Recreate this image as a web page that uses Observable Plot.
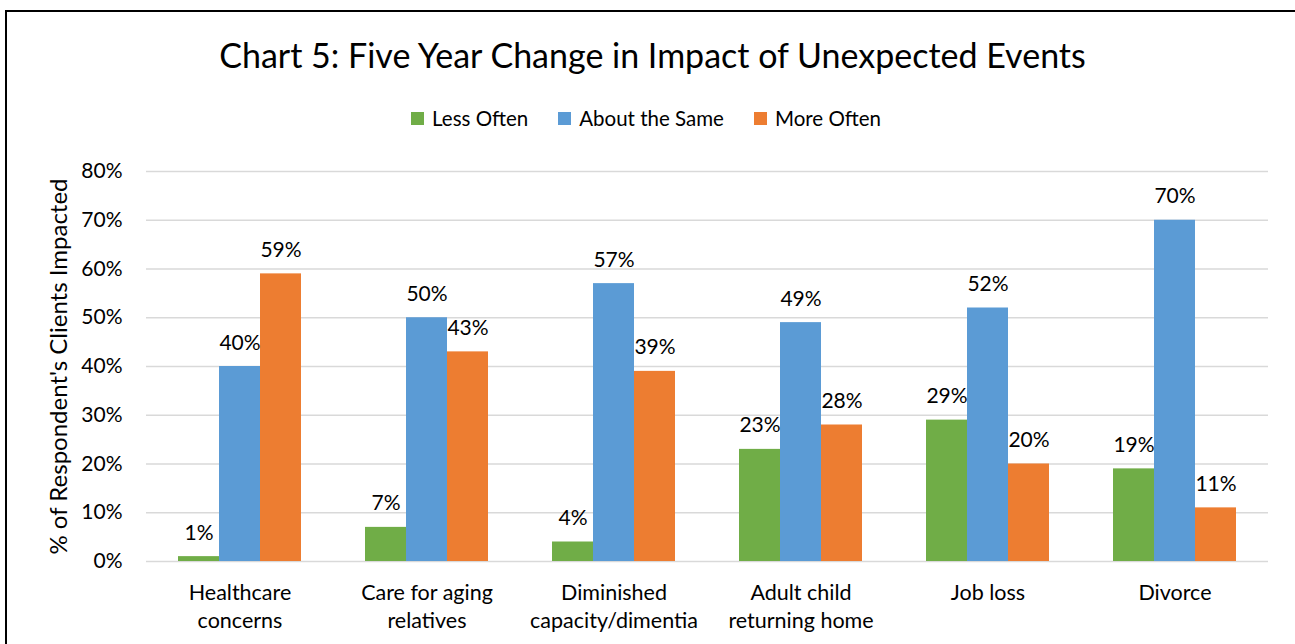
<!DOCTYPE html>
<html>
<head>
<meta charset="utf-8">
<script src="https://cdn.jsdelivr.net/npm/d3@7"></script>
<script src="https://cdn.jsdelivr.net/npm/@observablehq/plot@0.6"></script>
<style>
  body { margin: 0; width: 1295px; height: 644px; overflow: hidden; background: #fff; font-family: Lato, sans-serif; color: #000; position: relative; }
  #frame { position: absolute; left: 5px; top: 10px; width: 1400px; height: 700px; border-left: 2px solid #000; border-top: 2px solid #000; }
  #title { position: absolute; left: 0; top: 35px; width: 1305px; text-align: center; font-size: 34px; line-height: 40px; white-space: nowrap; }
  #legend { position: absolute; left: 0; top: 106px; width: 1292px; display: flex; justify-content: center; font-size: 20.5px; line-height: 24px; }
  #legend .item { display: flex; align-items: center; margin: 0 15px; }
  #legend .swatch { width: 13px; height: 13px; margin-right: 8px; }
  #chart { position: absolute; left: 0; top: 140px; }
</style>
</head>
<body>
<div id="frame"></div>
<div id="title">Chart 5: Five Year Change in Impact of Unexpected Events</div>
<div id="legend"></div>
<div id="chart"></div>
<script>
// Unexpected events asked about in the survey
const categories = [
  "Healthcare concerns",
  "Care for aging relatives",
  "Diminished capacity/dimentia",
  "Adult child returning home",
  "Job loss",
  "Divorce"
];
// Axis labels, split over two lines
const categoryLabels = [
  "Healthcare\nconcerns",
  "Care for aging\nrelatives",
  "Diminished\ncapacity/dimentia",
  "Adult child\nreturning home",
  "Job loss",
  "Divorce"
];
const series = ["Less Often", "About the Same", "More Often"];
const seriesColors = ["#70AD47", "#5B9BD5", "#ED7D31"];

// Percent of respondents' clients impacted, by category
const lessOften = [1, 7, 4, 23, 29, 19];
const aboutTheSame = [40, 50, 57, 49, 52, 70];
const moreOften = [59, 43, 39, 28, 20, 11];

const yTicks = [0, 10, 20, 30, 40, 50, 60, 70, 80];

const seriesValues = [lessOften, aboutTheSame, moreOften];
const data = categories.flatMap((category, i) =>
  series.map((s, j) => ({category, series: s, value: seriesValues[j][i]}))
);
const labelOf = new Map(categories.map((c, i) => [c, categoryLabels[i]]));

// Legend
const legend = document.getElementById("legend");
series.forEach((s, i) => {
  const item = document.createElement("div");
  item.className = "item";
  const sw = document.createElement("span");
  sw.className = "swatch";
  sw.style.background = seriesColors[i];
  const label = document.createElement("span");
  label.textContent = s;
  item.append(sw, label);
  legend.append(item);
});

const chart = Plot.plot({
  width: 1295,
  height: 504,
  marginTop: 31,
  marginBottom: 83,
  marginLeft: 144,
  marginRight: 26,
  style: {fontFamily: "Lato, sans-serif", fontSize: "21px", color: "#000", background: "transparent", overflow: "visible"},
  fx: {domain: categories, padding: 0, label: null},
  x: {domain: series, paddingInner: 0, paddingOuter: 0.75, axis: null},
  y: {domain: [0, 80], axis: null},
  color: {domain: series, range: seriesColors},
  marks: [
    Plot.ruleY(yTicks, {stroke: "#d9d9d9", strokeWidth: 1.5}),
    Plot.barY(data, {fx: "category", x: "series", y: "value", fill: "series"}),
    Plot.text(data, {
      fx: "category", x: "series", y: "value",
      text: d => d.value + "%",
      lineAnchor: "bottom", dy: -17, fontSize: 21, fill: "#000"
    }),
    Plot.axisY({
      ticks: yTicks, tickSize: 0, tickPadding: 24,
      tickFormat: d => d + "%", fontSize: 21, fill: "#000",
      label: "% of Respondent's Clients Impacted",
      labelAnchor: "center", labelOffset: 97, labelArrow: false
    }),
    Plot.axisFx({
      anchor: "bottom",
      tickSize: 0, tickPadding: 19, lineHeight: 1.3,
      tickFormat: d => labelOf.get(d), fontSize: 21.5, fill: "#000", label: null
    })
  ]
});
document.getElementById("chart").append(chart);

// Axis title is larger than the tick labels
chart.querySelectorAll("[aria-label='y-axis label'] text, [aria-label='y-axis label']").forEach(el => {
  el.setAttribute("font-size", 24);
});
</script>
</body>
</html>
